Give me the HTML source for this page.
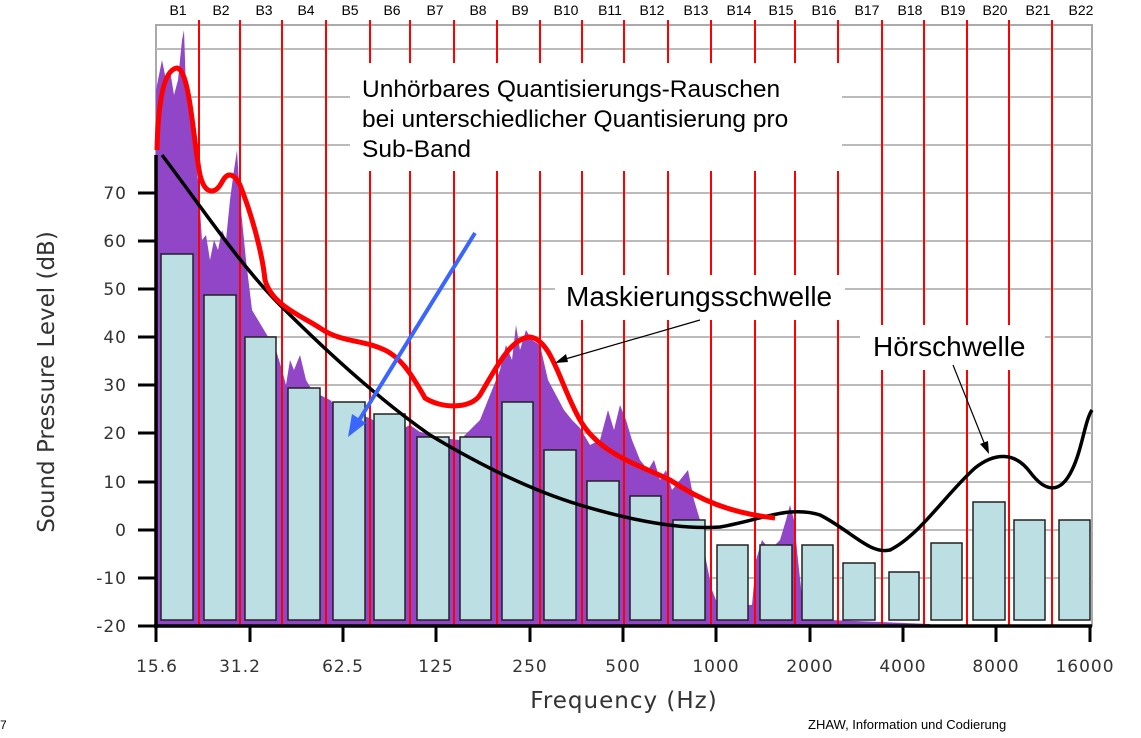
<!DOCTYPE html>
<html><head><meta charset="utf-8"><style>
html,body{margin:0;padding:0;background:#fff;}
svg{display:block;font-family:"DejaVu Sans",sans-serif;}
.a{font-family:"Liberation Sans",Arial,sans-serif;}
</style></head><body>
<svg width="1141" height="738" viewBox="0 0 1141 738" xmlns="http://www.w3.org/2000/svg">
<rect width="1141" height="738" fill="#fff"/>
<rect x="156" y="25" width="936" height="601" fill="#fff" stroke="#aaa" stroke-width="2"/>
<g stroke="#bbb" stroke-width="2">
<line x1="156" x2="1092" y1="49" y2="49"/><line x1="156" x2="1092" y1="97" y2="97"/>
<line x1="156" x2="1092" y1="145" y2="145"/><line x1="156" x2="1092" y1="193" y2="193"/>
<line x1="156" x2="1092" y1="241" y2="241"/><line x1="156" x2="1092" y1="289" y2="289"/>
<line x1="156" x2="1092" y1="337" y2="337"/><line x1="156" x2="1092" y1="385" y2="385"/>
<line x1="156" x2="1092" y1="433" y2="433"/><line x1="156" x2="1092" y1="482" y2="482"/>
<line x1="156" x2="1092" y1="530" y2="530"/><line x1="156" x2="1092" y1="578" y2="578"/>
</g>
<path fill="#9146c8" d="M156,626 L156,90 L162,60 L166,80 L170,70 L174,95 L178,80 L182,40 L184,30 L186,90 L190,110 L194,150 L198,180 L202,240 L206,235 L210,260 L214,240 L218,250 L222,230 L226,240 L230,200 L234,170 L237,150 L240,200 L246,260 L252,310 L258,320 L264,330 L270,340 L276,350 L282,370 L286,385 L290,360 L294,370 L300,355 L306,380 L312,390 L320,395 L330,400 L340,410 L350,420 L360,415 L370,418 L380,425 L390,420 L400,430 L410,425 L420,432 L440,438 L460,440 L480,420 L490,395 L500,370 L506,345 L512,360 L516,325 L520,350 L526,330 L532,340 L540,345 L548,380 L556,395 L564,410 L572,420 L580,428 L590,445 L600,440 L608,410 L614,430 L620,405 L626,420 L632,440 L640,460 L648,470 L654,460 L660,480 L666,470 L672,490 L680,480 L688,470 L694,500 L700,520 L706,560 L712,590 L716,600 L740,605 L752,605 L756,560 L762,540 L770,550 L780,540 L786,520 L790,505 L794,520 L798,560 L804,615 L830,620 L880,622 L930,624 L930,626 Z"/>
<g stroke="#f00" stroke-width="2">
<line x1="199" x2="199" y1="20" y2="626"/><line x1="240" x2="240" y1="20" y2="626"/>
<line x1="282" x2="282" y1="20" y2="626"/><line x1="326" x2="326" y1="20" y2="626"/>
<line x1="370" x2="370" y1="20" y2="626"/><line x1="410" x2="410" y1="20" y2="626"/>
<line x1="454" x2="454" y1="20" y2="626"/><line x1="497" x2="497" y1="20" y2="626"/>
<line x1="540" x2="540" y1="20" y2="626"/><line x1="582" x2="582" y1="20" y2="626"/>
<line x1="624" x2="624" y1="20" y2="626"/><line x1="668" x2="668" y1="20" y2="626"/>
<line x1="711" x2="711" y1="20" y2="626"/><line x1="755" x2="755" y1="20" y2="626"/>
<line x1="795" x2="795" y1="20" y2="626"/><line x1="838" x2="838" y1="20" y2="626"/>
<line x1="882" x2="882" y1="20" y2="626"/><line x1="924" x2="924" y1="20" y2="626"/>
<line x1="967" x2="967" y1="20" y2="626"/><line x1="1009" x2="1009" y1="20" y2="626"/>
<line x1="1052" x2="1052" y1="20" y2="626"/>
</g>
<g fill="#bbdfe2" stroke="#222" stroke-width="1.5">
<rect x="161" y="254" width="32" height="366"/><rect x="204" y="295" width="32" height="325"/>
<rect x="245" y="337" width="31" height="283"/><rect x="288" y="388" width="32" height="232"/>
<rect x="333" y="402" width="32" height="218"/><rect x="374" y="414" width="31" height="206"/>
<rect x="417" y="437" width="32" height="183"/><rect x="460" y="437" width="31" height="183"/>
<rect x="502" y="402" width="31" height="218"/><rect x="544" y="450" width="32" height="170"/>
<rect x="587" y="481" width="32" height="139"/><rect x="630" y="496" width="31" height="124"/>
<rect x="673" y="520" width="32" height="100"/><rect x="717" y="545" width="31" height="75"/>
<rect x="760" y="545" width="32" height="75"/><rect x="802" y="545" width="31" height="75"/>
<rect x="843" y="563" width="32" height="57"/><rect x="889" y="572" width="30" height="48"/>
<rect x="931" y="543" width="31" height="77"/><rect x="973" y="502" width="32" height="118"/>
<rect x="1014" y="520" width="31" height="100"/><rect x="1059" y="520" width="31" height="100"/>
</g>
<rect x="350" y="63" width="492" height="108" fill="#fff"/>
<rect x="555" y="275" width="290" height="45" fill="#fff"/>
<rect x="860" y="325" width="185" height="45" fill="#fff"/>
<path fill="none" stroke="#000" stroke-width="3.5" d="M162,155 C200,205 240,265 280,305 C330,355 380,400 430,435 C480,465 530,490 580,505 C630,520 680,530 720,527 C760,520 790,505 820,515 C850,530 870,555 890,550 C920,535 945,495 975,468 C995,452 1015,452 1030,472 C1045,492 1060,495 1072,470 C1082,450 1085,420 1092,410"/>
<path fill="none" stroke="#f00" stroke-width="5" d="M157,150 C158,110 162,70 177,68 C190,70 193,140 200,175 C205,195 215,195 222,182 C228,170 235,175 240,185 C250,210 262,250 265,280 C272,305 300,315 320,328 C340,342 362,340 380,348 C400,355 412,375 425,398 C440,408 470,410 480,395 C495,370 510,338 530,337 C552,340 560,385 580,420 C600,455 640,465 670,480 C700,500 730,513 775,518"/>
<line x1="475" y1="233" x2="358" y2="422" stroke="#3a66ff" stroke-width="4"/>
<polygon points="348,437 352,414 366,423" fill="#3a66ff"/>
<line x1="700" y1="320" x2="562" y2="360" stroke="#000" stroke-width="1.2"/>
<polygon points="555,363 566,354 568,362" fill="#000"/>
<line x1="953" y1="365" x2="985" y2="445" stroke="#000" stroke-width="1.2"/>
<polygon points="989,454 980,444 988,441" fill="#000"/>
<line x1="156" y1="155" x2="156" y2="628" stroke="#000" stroke-width="3.5"/>
<line x1="154" y1="626" x2="1092" y2="626" stroke="#000" stroke-width="3.5"/>
<g stroke="#000" stroke-width="3">
<line x1="138" x2="156" y1="193" y2="193"/><line x1="138" x2="156" y1="241" y2="241"/>
<line x1="138" x2="156" y1="289" y2="289"/><line x1="138" x2="156" y1="337" y2="337"/>
<line x1="138" x2="156" y1="385" y2="385"/><line x1="138" x2="156" y1="433" y2="433"/>
<line x1="138" x2="156" y1="482" y2="482"/><line x1="138" x2="156" y1="530" y2="530"/>
<line x1="138" x2="156" y1="578" y2="578"/><line x1="138" x2="156" y1="626" y2="626"/>
<line x1="156" x2="156" y1="626" y2="642"/><line x1="250" x2="250" y1="626" y2="642"/>
<line x1="343" x2="343" y1="626" y2="642"/><line x1="436" x2="436" y1="626" y2="642"/>
<line x1="530" x2="530" y1="626" y2="642"/><line x1="623" x2="623" y1="626" y2="642"/>
<line x1="716" x2="716" y1="626" y2="642"/><line x1="810" x2="810" y1="626" y2="642"/>
<line x1="903" x2="903" y1="626" y2="642"/><line x1="996" x2="996" y1="626" y2="642"/>
<line x1="1090" x2="1090" y1="626" y2="642"/>
</g>
<g font-size="17" fill="#333" text-anchor="end" letter-spacing="1">
<text x="127" y="199">70</text><text x="127" y="247">60</text><text x="127" y="295">50</text>
<text x="127" y="343">40</text><text x="127" y="391">30</text><text x="127" y="439">20</text>
<text x="127" y="488">10</text><text x="127" y="536">0</text><text x="127" y="584">-10</text>
<text x="127" y="632">-20</text>
</g>
<g font-size="17" fill="#333" text-anchor="middle" letter-spacing="1">
<text x="157" y="672">15.6</text><text x="240" y="672">31.2</text><text x="343" y="672">62.5</text>
<text x="436" y="672">125</text><text x="530" y="672">250</text><text x="623" y="672">500</text>
<text x="716" y="672">1000</text><text x="810" y="672">2000</text><text x="903" y="672">4000</text>
<text x="996" y="672">8000</text><text x="1085" y="672">16000</text>
</g>
<text x="624" y="708" font-size="23" fill="#333" text-anchor="middle" letter-spacing="1">Frequency (Hz)</text>
<text transform="translate(54,382) rotate(-90)" font-size="23" fill="#333" text-anchor="middle">Sound Pressure Level (dB)</text>
<g class="a" font-size="14" fill="#000" text-anchor="middle">
<text x="178" y="15">B1</text><text x="221" y="15">B2</text><text x="264" y="15">B3</text>
<text x="306" y="15">B4</text><text x="350" y="15">B5</text><text x="392" y="15">B6</text>
<text x="435" y="15">B7</text><text x="478" y="15">B8</text><text x="520" y="15">B9</text>
<text x="566" y="15">B10</text><text x="610" y="15">B11</text><text x="652" y="15">B12</text>
<text x="696" y="15">B13</text><text x="739" y="15">B14</text><text x="781" y="15">B15</text>
<text x="824" y="15">B16</text><text x="867" y="15">B17</text><text x="910" y="15">B18</text>
<text x="953" y="15">B19</text><text x="995" y="15">B20</text><text x="1038" y="15">B21</text>
<text x="1081" y="15">B22</text>
</g>
<g class="a" font-size="25" fill="#000">
<text x="362" y="97" font-size="24.5">Unhörbares Quantisierungs-Rauschen</text>
<text x="362" y="127" font-size="24.5">bei unterschiedlicher Quantisierung pro</text>
<text x="362" y="157" font-size="24.5">Sub-Band</text>
<text x="566" y="306" font-size="28">Maskierungsschwelle</text>
<text x="873" y="356" font-size="28">Hörschwelle</text>
</g>
<text class="a" x="0" y="729" font-size="12" fill="#000">7</text>
<text class="a" x="808" y="729" font-size="13" fill="#000">ZHAW, Information und Codierung</text>
</svg>
</body></html>
